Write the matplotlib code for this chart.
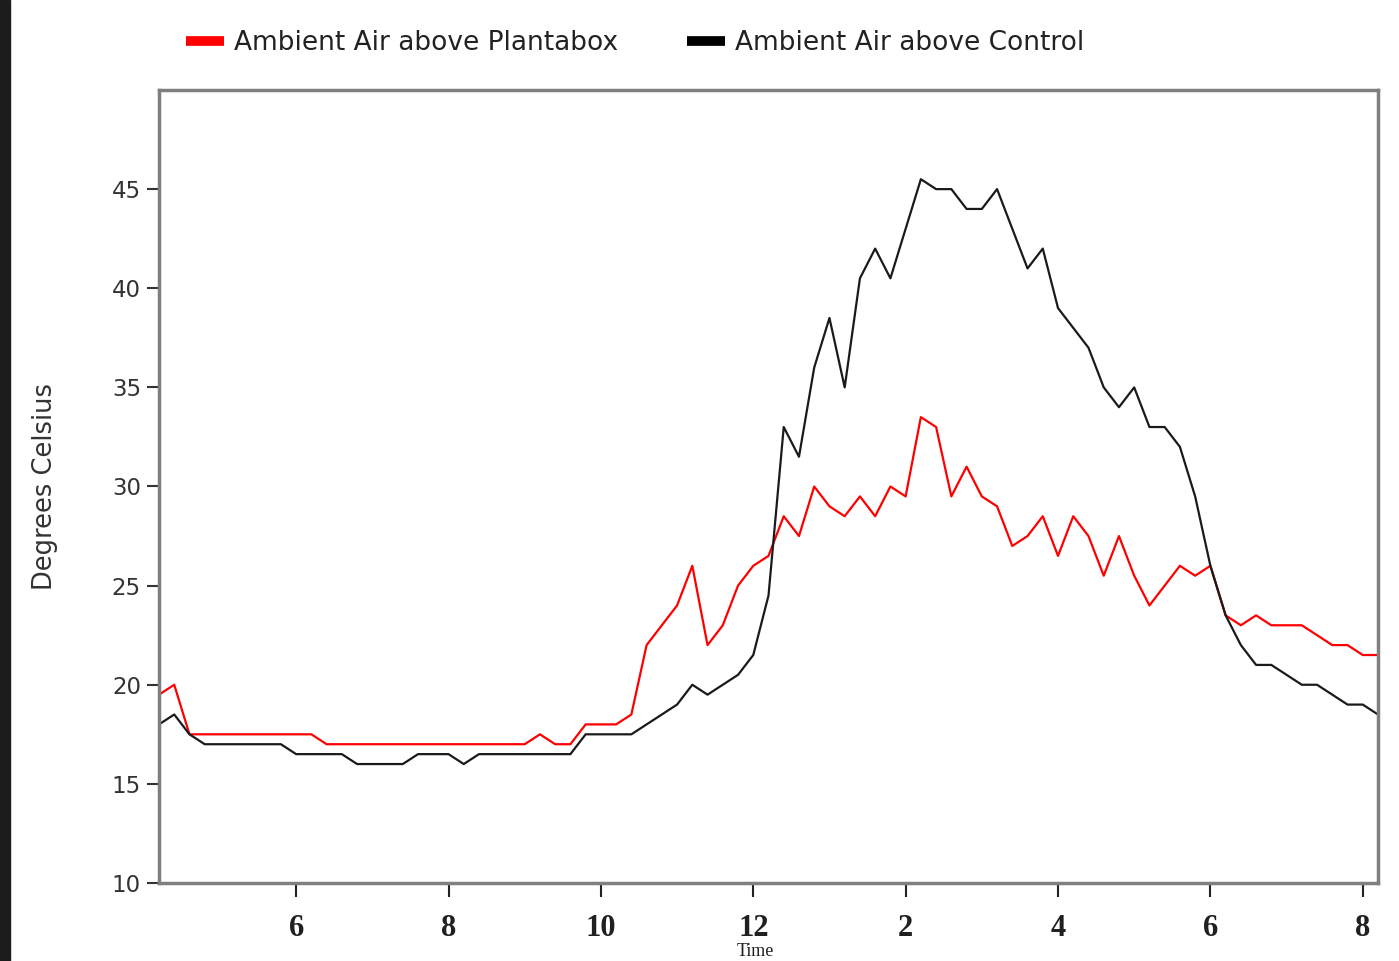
"""
Ambient air temperature above a Plantabox vs. above a control patch,
logged every 12 minutes over one day.
"""

import numpy as np
import matplotlib.pyplot as plt
from matplotlib.patches import Rectangle
from matplotlib.lines import Line2D

# ===== Data ===================================================================
START_HOUR = 4.2      # first reading (24h clock)
STEP_HOURS = 0.2      # one reading every 12 minutes

plantabox = [19.5, 20, 17.5, 17.5, 17.5, 17.5, 17.5, 17.5, 17.5, 17.5,
             17.5, 17, 17, 17, 17, 17, 17, 17, 17, 17,
             17, 17, 17, 17, 17, 17.5, 17, 17, 18, 18,
             18, 18.5, 22, 23, 24, 26, 22, 23, 25, 26,
             26.5, 28.5, 27.5, 30, 29, 28.5, 29.5, 28.5, 30, 29.5,
             33.5, 33, 29.5, 31, 29.5, 29, 27, 27.5, 28.5, 26.5,
             28.5, 27.5, 25.5, 27.5, 25.5, 24, 25, 26, 25.5, 26,
             23.5, 23, 23.5, 23, 23, 23, 22.5, 22, 22, 21.5,
             21.5]

control = [18, 18.5, 17.5, 17, 17, 17, 17, 17, 17, 16.5,
           16.5, 16.5, 16.5, 16, 16, 16, 16, 16.5, 16.5, 16.5,
           16, 16.5, 16.5, 16.5, 16.5, 16.5, 16.5, 16.5, 17.5, 17.5,
           17.5, 17.5, 18, 18.5, 19, 20, 19.5, 20, 20.5, 21.5,
           24.5, 33, 31.5, 36, 38.5, 35, 40.5, 42, 40.5, 43,
           45.5, 45, 45, 44, 44, 45, 43, 41, 42, 39,
           38, 37, 35, 34, 35, 33, 33, 32, 29.5, 26,
           23.5, 22, 21, 21, 20.5, 20, 20, 19.5, 19, 19,
           18.5]

x_ticks = [6, 8, 10, 12, 14, 16, 18, 20]
x_tick_labels = ["6", "8", "10", "12", "2", "4", "6", "8"]
y_ticks = [10, 15, 20, 25, 30, 35, 40, 45]

labels = ["Ambient Air above Plantabox", "Ambient Air above Control"]

# ===== Plotting ===============================================================
hours = START_HOUR + STEP_HOURS * np.arange(len(plantabox))

fig = plt.figure(figsize=(13.99, 9.61), dpi=100)
W, H = 1399, 961
ax = fig.add_axes([159 / W, 1 - 883 / H, (1378 - 159) / W, (883 - 90) / H])

# dark strip of background along the left edge
fig.patches.append(Rectangle((0, 0), 10 / W, 1, transform=fig.transFigure,
                             color='#1c1c1c', zorder=0))

ax.plot(hours, plantabox, color='#ff0000', lw=1.6)
ax.plot(hours, control, color='#1a1a1a', lw=1.6)

ax.set_xlim(START_HOUR, hours[-1])
ax.set_ylim(10, 50)

ax.set_xticks(x_ticks)
ax.set_xticklabels(x_tick_labels, family='Liberation Serif',
                   fontsize=22, fontweight='bold', color='#202020')
ax.set_yticks(y_ticks)
ax.set_yticklabels([str(v) for v in y_ticks], fontsize=16.5, color='#333333')

ax.tick_params(axis='y', direction='out', length=9, width=1.5,
               color='#333333', pad=4)
ax.tick_params(axis='x', direction='out', length=10, width=1.5,
               color='#222222', pad=12)

for side in ['left', 'right', 'top', 'bottom']:
    ax.spines[side].set_color('#7f7f7f')
    ax.spines[side].set_linewidth(2.5)

fig.text(45 / W, 1 - 487 / H, "Degrees Celsius", rotation=90,
         ha='center', va='center', fontsize=18.5, color='#333333')
fig.text(755 / W, 1 - 956 / H, "Time", ha='center', va='baseline',
         family='Liberation Serif', fontsize=13, color='#202020')

# ===== Legend (two entries across the top) ====================================
handles = [Line2D([], [], color='#ff0000', lw=7, solid_capstyle='butt'),
           Line2D([], [], color='#000000', lw=7, solid_capstyle='butt')]
fig.legend(handles, labels, loc='center left', ncol=2,
           bbox_to_anchor=(186 / W, 1 - 43 / H), frameon=False,
           borderpad=0, borderaxespad=0,
           fontsize=19, handlelength=1.45, handletextpad=0.38,
           columnspacing=2.6, labelcolor='#222222')

fig.savefig("out.png", dpi=100)
